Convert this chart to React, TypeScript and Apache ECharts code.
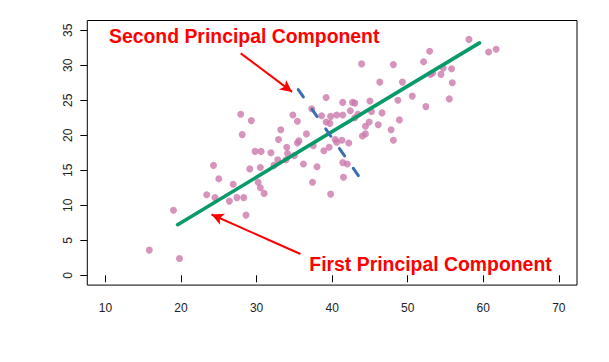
import React, { useEffect, useRef } from "react";
import * as echarts from "echarts";

// Scatter data
const xValues = [
  15.8, 19.8, 19.0, 23.4, 24.5, 24.3, 25.0, 26.4, 26.9, 27.4,
  28.3, 28.6, 29.1, 30.5, 30.2, 30.5, 31.0, 29.8, 30.6, 31.9,
  27.9, 29.3, 28.1, 32.3, 32.8, 33.9, 34.1, 35.0, 32.9, 33.2,
  34.8, 35.4, 35.6, 35.4, 36.6, 36.2, 38.0, 37.4, 39.8, 37.5,
  37.3, 39.2, 38.6, 39.8, 40.6, 39.2, 39.7, 40.4, 40.6, 39.6,
  38.9, 41.4, 42.0, 41.5, 41.4, 42.7, 43.0, 45.0, 42.4, 43.4,
  45.2, 46.6, 41.4, 43.0, 48.9, 46.1, 44.9, 44.4, 47.8, 44.4,
  44.0, 48.1, 41.3, 42.2, 48.7, 50.6, 52.4, 46.3, 49.3, 43.9,
  48.1, 52.1, 52.9, 58.1, 60.7, 61.7, 54.7, 55.8, 53.0, 53.3,
  54.4, 55.9, 55.5, 34.0,
];
const yValues = [
  3.6, 2.4, 9.3, 11.5, 11.1, 15.7, 13.8, 10.6, 13.0, 11.1,
  11.1, 8.6, 15.2, 15.4, 13.3, 12.5, 11.7, 17.7, 17.7, 17.5,
  23.0, 22.1, 20.1, 15.7, 16.5, 16.5, 17.4, 17.1, 19.4, 20.8,
  22.9, 22.0, 19.2, 18.9, 20.2, 15.9, 15.5, 13.3, 11.6, 18.5,
  23.8, 25.4, 22.8, 22.7, 22.9, 21.9, 21.7, 19.4, 19.0, 18.3,
  17.8, 16.1, 15.9, 14.0, 24.7, 24.7, 24.6, 24.9, 23.5, 23.0,
  23.4, 23.2, 22.9, 22.5, 22.2, 21.5, 21.9, 21.3, 20.8, 20.2,
  19.9, 19.3, 19.3, 18.9, 25.0, 25.6, 24.1, 27.6, 27.6, 30.2,
  30.1, 30.5, 32.0, 33.7, 31.9, 32.3, 29.6, 29.5, 28.7, 28.9,
  28.7, 27.5, 25.2, 18.3,
];

const xTicks = [10, 20, 30, 40, 50, 60, 70];
const yTicks = [0, 5, 10, 15, 20, 25, 30, 35];

// Principal component lines (endpoints in data units)
const firstPC = [
  [19.55, 7.23],
  [59.5, 33.2],
];
const secondPC = [
  [35.51, 26.54],
  [43.67, 13.93],
];

// Annotation arrows: [tail, head] in data units
const arrowSecond = [
  [27.9, 31.7],
  [34.7, 26.2],
];
const arrowFirst = [
  [35.8, 3.04],
  [24.04, 8.69],
];

const labelSecond = "Second Principal Component";
const labelFirst = "First Principal Component";

export default function App() {
  const ref = useRef<HTMLDivElement>(null);

  useEffect(() => {
    if (!ref.current) return;
    const chart = echarts.init(ref.current, null, { renderer: "svg" });
    const font = '"Liberation Sans", Arial, Helvetica, sans-serif';
    const points = xValues.map((x, i) => [x, yValues[i]]);

    chart.setOption({
      animation: false,
      grid: {
        left: 87.3,
        right: 32,
        top: 20.5,
        bottom: 76.9,
        show: true,
        borderColor: "#000",
        borderWidth: 1,
        backgroundColor: "transparent",
      },
      xAxis: {
        type: "value",
        min: 7.6,
        max: 72.4,
        splitLine: { show: false },
        axisLine: { show: false },
        axisTick: {
          show: true,
          inside: false,
          length: 7,
          lineStyle: { color: "#000", width: 1 },
          customValues: xTicks,
        },
        axisLabel: {
          customValues: xTicks,
          margin: 17,
          fontSize: 12,
          color: "#222",
          fontFamily: font,
        },
      },
      yAxis: {
        type: "value",
        min: -1.4,
        max: 36.4,
        splitLine: { show: false },
        axisLine: { show: false },
        axisTick: {
          show: true,
          inside: false,
          length: 7,
          lineStyle: { color: "#000", width: 1 },
          customValues: yTicks,
        },
        axisLabel: {
          customValues: yTicks,
          rotate: 90,
          margin: 13,
          fontSize: 12,
          color: "#222",
          fontFamily: font,
        },
      },
      series: [
        {
          type: "scatter",
          data: points,
          symbol: "circle",
          symbolSize: 7,
          itemStyle: { color: "#cc78ab" },
          z: 2,
          silent: true,
        },
        {
          type: "line",
          data: firstPC,
          symbol: "none",
          lineStyle: { color: "#089a68", width: 3.6, cap: "round" },
          z: 3,
          silent: true,
        },
        {
          type: "line",
          data: secondPC,
          symbol: "none",
          lineStyle: {
            color: "#3a6fae",
            width: 3,
            type: [9, 15],
            cap: "round",
          },
          z: 4,
          silent: true,
          markLine: {
            silent: true,
            symbol: ["none", "arrow"],
            symbolSize: [9, 12],
            lineStyle: { color: "#ff0000", width: 2, type: "solid" },
            label: { show: false },
            emphasis: { disabled: true },
            data: [
              [{ coord: arrowSecond[0] }, { coord: arrowSecond[1] }],
              [{ coord: arrowFirst[0] }, { coord: arrowFirst[1] }],
            ],
          },
        },
      ],
      graphic: [
        {
          type: "text",
          x: 109,
          y: 36.1,
          silent: true,
          style: {
            text: labelSecond,
            fill: "#ff0000",
            font: `bold 19.4px ${font}`,
            align: "left",
            verticalAlign: "middle",
          },
        },
        {
          type: "text",
          x: 309.3,
          y: 264.1,
          silent: true,
          style: {
            text: labelFirst,
            fill: "#ff0000",
            font: `bold 19.4px ${font}`,
            align: "left",
            verticalAlign: "middle",
          },
        },
      ],
    });

    return () => {
      chart.dispose();
    };
  }, []);

  return (
    <div
      ref={ref}
      style={{ position: "absolute", left: 0, top: 0, width: 609, height: 362 }}
    />
  );
}
